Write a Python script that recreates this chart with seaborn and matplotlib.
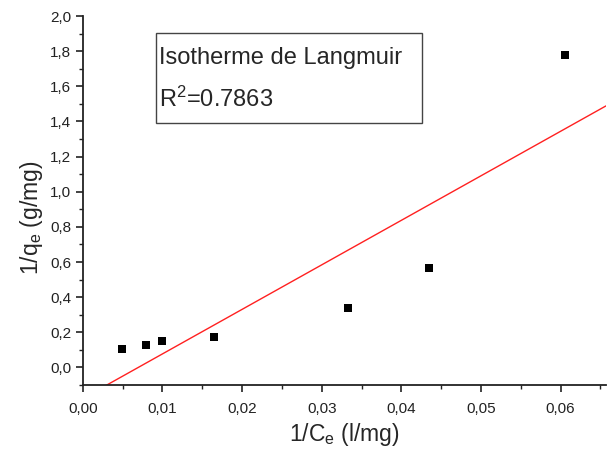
import numpy as np
import pandas as pd
import matplotlib
matplotlib.use("Agg")
import matplotlib.pyplot as plt
from matplotlib.ticker import MultipleLocator, FuncFormatter
from matplotlib.patches import Rectangle
import seaborn as sns

inv_ce = [0.0049, 0.0079, 0.0100, 0.0165, 0.0333, 0.0435, 0.0606]
inv_qe = [0.107, 0.127, 0.152, 0.175, 0.338, 0.566, 1.778]
title_text = "Isotherme de Langmuir"
r2_text = r"R$^2$=0.7863"

sns.set_theme(style="ticks")
plt.rcParams['font.family'] = ['Liberation Sans', 'DejaVu Sans']
plt.rcParams['mathtext.fontset'] = 'custom'
plt.rcParams['mathtext.rm'] = 'Liberation Sans'
plt.rcParams['mathtext.it'] = 'Liberation Sans'

fig = plt.figure(figsize=(6.09, 4.5), dpi=100)
ax = fig.add_axes([0.136, 0.1444, 0.859, 0.82])

df = pd.DataFrame({"x": inv_ce, "y": inv_qe})
slope, intercept = np.polyfit(df["x"], df["y"], 1)
xmin, xmax = 0.0, 0.0657
xs = np.linspace(xmin, xmax, 50)
fit = pd.DataFrame({"x": xs, "y": slope * xs + intercept})

sns.lineplot(data=fit, x="x", y="y", ax=ax, color="#ff2020", linewidth=1.0)
sns.scatterplot(data=df, x="x", y="y", ax=ax, marker="s", color="black",
                s=30, edgecolor="black", linewidth=0, zorder=3)

ax.set_xlim(xmin, xmax)
ax.set_ylim(-0.1, 2.0)
ax.xaxis.set_major_locator(MultipleLocator(0.01))
ax.xaxis.set_minor_locator(MultipleLocator(0.005))
ax.yaxis.set_major_locator(MultipleLocator(0.2))
ax.yaxis.set_minor_locator(MultipleLocator(0.1))
ax.xaxis.set_major_formatter(FuncFormatter(lambda v, p: f"{v:.2f}".replace('.', ',')))
ax.yaxis.set_major_formatter(FuncFormatter(lambda v, p: f"{v:.1f}".replace('.', ',').replace('-0,0', '0,0')))
ax.set_yticks([v / 10 for v in range(0, 21, 2)])

for s in ["top", "right"]:
    ax.spines[s].set_visible(False)
for s in ["left", "bottom"]:
    ax.spines[s].set_linewidth(1.3)
    ax.spines[s].set_color("#222222")
ax.tick_params(which="major", direction="out", length=5, width=1.2, labelsize=11, colors="#222222")
ax.tick_params(which="minor", direction="out", length=3, width=1.0, colors="#222222")
ax.tick_params(axis="x", pad=7)

ax.set_xlabel(r"1/C$_\mathrm{e}$ (l/mg)", fontsize=16.5)
ax.set_ylabel(r"1/q$_\mathrm{e}$ (g/mg)", fontsize=16.5)
ax.xaxis.set_label_coords(0.499, -0.135)
ax.yaxis.set_label_coords(-0.099, 0.453)
ax.xaxis.label.set_va("center")
ax.yaxis.label.set_va("center")

x0, x1 = 156 / 609, 422 / 609
y0, y1 = 1 - 123 / 450, 1 - 33 / 450
fig.patches.append(Rectangle((x0, y0), x1 - x0, y1 - y0, transform=fig.transFigure,
                             fill=False, edgecolor="#444444", linewidth=1.0))
fig.text(159 / 609, 1 - 64 / 450, title_text, fontsize=17, ha="left", va="baseline")
fig.text(159 / 609, 1 - 107 / 450, r2_text, fontsize=17, ha="left", va="baseline")

fig.savefig("out.png", dpi=100)
